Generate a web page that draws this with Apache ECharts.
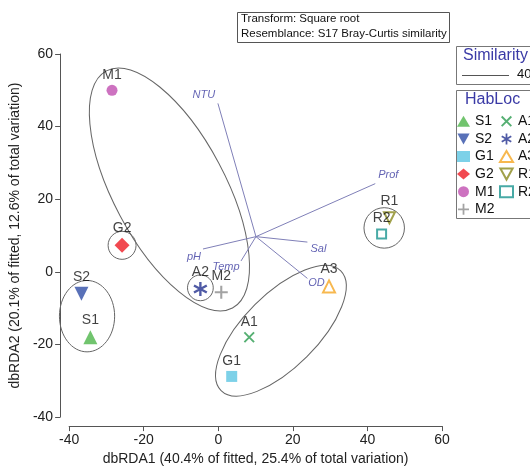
<!DOCTYPE html>
<html>
<head>
<meta charset="utf-8">
<script src="https://cdn.jsdelivr.net/npm/echarts@6/dist/echarts.min.js"></script>
<style>html,body{margin:0;padding:0;background:#fff;}#c{width:530px;height:471px;}</style>
</head>
<body>
<div id="c"></div>
<script>
// ---- data ----
const categories = ['S1','S2','G1','G2','M1','M2','A1','A2','A3','R1','R2'];
const dbRDA1 = [-34.3,-36.7,3.6,-25.8,-28.5,0.8,8.3,-4.8,29.7,45.9,43.8];
const dbRDA2 = [-18.0,-6.0,-28.8,7.3,50.0,-5.6,-18.0,-4.7,-4.0,14.9,10.4];

const vectorNames = ['NTU','Prof','Sal','OD','pH','Temp'];
const vectorX = [-0.1,42.1,23.9,23.9,-4.1,6.1];
const vectorY = [46.4,24.3,8.2,-1.8,6.3,3.0];
const vectorOrigin = [10.1,9.7];

// similarity contours (level 40): centre, semi-axes (data units), tilt (deg, ccw)
const contourCX = [-13.1,-25.8,-35.2,-4.8,16.8,44.5];
const contourCY = [22.7,7.3,-12.2,-4.4,-16.2,12.1];
const contourA  = [36.5,3.8,7.5,3.5,23.0,5.5];
const contourB  = [15.2,3.8,9.7,3.5,10.0,5.5];
const contourTilt = [-62,0,0,0,45,0];

const xTicks = [-40,-20,0,20,40,60];
const yTicks = [-40,-20,0,20,40,60];
const similarityLevels = ['40'];
const headerLines = ['Transform: Square root','Resemblance: S17 Bray-Curtis similarity'];

// ---- styles ----
const FONT = "'Liberation Sans', Arial, sans-serif";
function barPoly(deg, L, w){
  const a = deg*Math.PI/180, c=Math.cos(a), s=Math.sin(a);
  const pts=[[-w,-L],[w,-L],[w,L],[-w,L]].map(p=>[5+p[0]*c-p[1]*s,5+p[0]*s+p[1]*c]);
  return 'M'+pts.map(p=>p[0].toFixed(2)+','+p[1].toFixed(2)).join('L')+'Z';
}
const plusPath = 'path://M4.2,0H5.8V4.2H10V5.8H5.8V10H4.2V5.8H0V4.2H4.2Z';
const crossPath = 'path://'+barPoly(45,6.2,0.85)+barPoly(-45,6.2,0.85);
const starPath = 'path://'+barPoly(0,5,0.8)+barPoly(60,5,0.8)+barPoly(120,5,0.8);
const downTri = 'path://M0,0L10,0L5,9Z';

const markerStyle = {
  S1:{symbol:'triangle',size:14,color:'#4db54a'},
  S2:{symbol:downTri,size:14,color:'#2f4ea6'},
  G1:{symbol:'rect',size:11,color:'#5cc6e2'},
  G2:{symbol:'diamond',size:15,color:'#ee1c24'},
  M1:{symbol:'circle',size:11,color:'#c04fb0'},
  M2:{symbol:plusPath,size:13,color:'#8c8c8c'},
  A1:{symbol:crossPath,size:11,color:'#2a9b4f'},
  A2:{symbol:starPath,size:14,color:'#23318f'},
  A3:{symbol:'triangle',size:12,color:'#f5a623',open:true},
  R1:{symbol:downTri,size:11,color:'#8a8a1e',open:true},
  R2:{symbol:'rect',size:9,color:'#1a9590',open:true}
};

const pointSeries = categories.map((name,i)=>{
  const m = markerStyle[name];
  return {
    type:'scatter', name:name, z:5,
    symbol:m.symbol, symbolSize:m.size,
    itemStyle: m.open ? {color:'rgba(255,255,255,0)',borderColor:m.color,borderWidth:2} : {color:m.color},
    label:{show:true,position:'top',distance:3,formatter:name,color:'#111',fontSize:14,fontFamily:FONT},
    data:[[dbRDA1[i],dbRDA2[i]]]
  };
});

const vectorLabelOffset = {NTU:[-14,-8],Prof:[13,-9],Sal:[11,7],OD:[9,5],pH:[-9,8],Temp:[-15,6]};

const contourData = contourCX.map((cx,i)=>[cx,contourCY[i],contourA[i],contourB[i],contourTilt[i]]);

const option = {
  animation:false,
  backgroundColor:'#fff',
  textStyle:{fontFamily:FONT},
  grid:{left:67,right:88,top:54,bottom:47},
  xAxis:{
    type:'value',min:xTicks[0],max:xTicks[xTicks.length-1],interval:20,offset:9,
    axisLine:{show:true,onZero:false,lineStyle:{color:'#555',width:1}},
    axisTick:{show:true,length:5,lineStyle:{color:'#555'}},
    axisLabel:{fontSize:14,color:'#222',margin:7,fontFamily:FONT},
    splitLine:{show:false},
    name:'dbRDA1 (40.4% of fitted, 25.4% of total variation)',
    nameLocation:'middle',nameGap:24,
    nameTextStyle:{fontSize:14,color:'#222',fontFamily:FONT}
  },
  yAxis:{
    type:'value',min:yTicks[0],max:yTicks[yTicks.length-1],interval:20,offset:9,
    axisLine:{show:true,onZero:false,lineStyle:{color:'#555',width:1}},
    axisTick:{show:true,length:5,lineStyle:{color:'#555'}},
    axisLabel:{fontSize:14,color:'#222',margin:7,fontFamily:FONT},
    splitLine:{show:false},
    name:'dbRDA2 (20.1% of fitted, 12.6% of total variation)',
    nameLocation:'middle',nameGap:29,
    nameTextStyle:{fontSize:14,color:'#222',fontFamily:FONT}
  },
  legend:{
    data:categories, orient:'vertical', left:457, top:113, height:112,
    itemWidth:13, itemHeight:11, itemGap:1, padding:0,
    textStyle:{fontSize:14,color:'#111',fontFamily:FONT,width:24,lineHeight:16.6},
    selectedMode:false
  },
  graphic:[
    {type:'rect',shape:{x:237.5,y:12.5,width:212,height:30},style:{fill:'#fff',stroke:'#555',lineWidth:1},z:10},
    {type:'text',x:241,y:13,style:{text:headerLines[0],fontSize:11.5,fill:'#111',fontFamily:FONT},z:11},
    {type:'text',x:241,y:28,style:{text:headerLines[1],fontSize:11.5,fill:'#111',fontFamily:FONT},z:11},
    {type:'rect',shape:{x:456.5,y:46.5,width:100,height:38},style:{fill:'none',stroke:'#777',lineWidth:1},z:10},
    {type:'text',x:463,y:48,style:{text:'Similarity',fontSize:16,fill:'#3a3aa6',fontFamily:FONT},z:11},
    {type:'line',shape:{x1:462,y1:75.5,x2:509,y2:75.5},style:{stroke:'#555',lineWidth:1},z:11},
    {type:'text',x:517,y:68,style:{text:similarityLevels[0],fontSize:13,fill:'#111',fontFamily:FONT},z:11},
    {type:'rect',shape:{x:456.5,y:90.5,width:100,height:128},style:{fill:'none',stroke:'#777',lineWidth:1},z:10},
    {type:'text',x:465,y:92,style:{text:'HabLoc',fontSize:16,fill:'#3a3aa6',fontFamily:FONT},z:11}
  ],
  series:[
    {
      type:'custom', silent:true, z:1,
      data:contourData,
      renderItem:function(params,api){
        const c = api.coord([api.value(0),api.value(1)]);
        const s = api.size([1,1]);
        const k = (s[0]+s[1])/2;
        return {type:'ellipse', x:c[0], y:c[1], rotation:api.value(4)*Math.PI/180,
          shape:{cx:0,cy:0,rx:api.value(2)*k,ry:api.value(3)*k},
          style:{fill:'none',stroke:'#666',lineWidth:1}};
      }
    },
    {
      type:'lines', coordinateSystem:'cartesian2d', silent:true, z:2,
      lineStyle:{color:'#8080b8',width:1,opacity:1},
      data:vectorNames.map((n,i)=>({coords:[vectorOrigin,[vectorX[i],vectorY[i]]]}))
    },
    {
      type:'scatter', silent:true, z:3, symbolSize:0,
      data:vectorNames.map((n,i)=>({value:[vectorX[i],vectorY[i]],
        label:{show:true,position:'inside',offset:vectorLabelOffset[n],formatter:n,
          fontSize:11,fontStyle:'italic',color:'#3c3ca0',fontFamily:FONT}}))
    }
  ].concat(pointSeries)
};

const chart = echarts.init(document.getElementById('c'),null,{renderer:'canvas'});
chart.setOption(option);
</script>
</body>
</html>
